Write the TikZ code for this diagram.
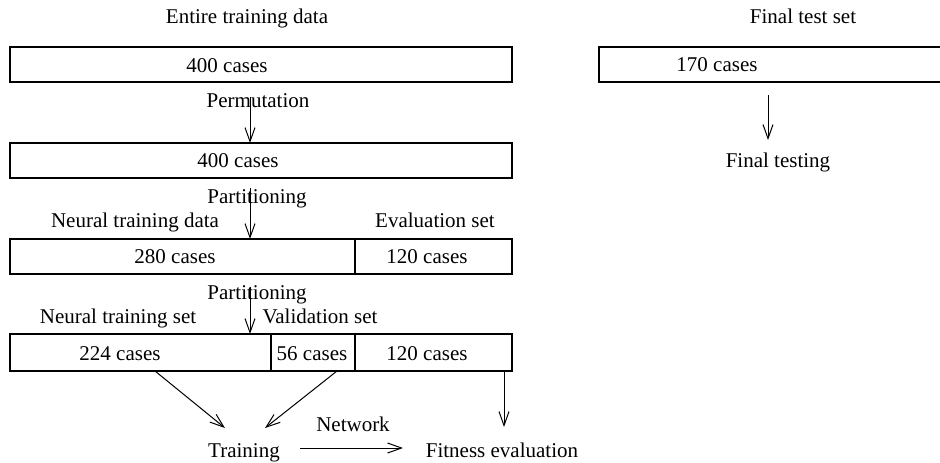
\documentclass[tikz,border=0pt]{standalone}
\usepackage{fontspec}
\setmainfont{Liberation Serif}
\usetikzlibrary{arrows.meta}
\begin{document}
\begin{tikzpicture}[x=0.5pt,y=-0.5pt,
  txt/.style={inner sep=0pt,anchor=base,font=\fontsize{10.5}{12}\selectfont},
  box/.style={draw,line width=0.75pt,inner sep=0pt,minimum height=#1*0.5pt},
  arr/.style={-{Straight Barb[length=7pt,width=5pt]},line width=0.5pt}]
\useasboundingbox (0,0) rectangle (940,462);
\clip (0,0) rectangle (940,462);
% boxes
\node[box=35,minimum width=251pt] (b1) at (261,64.5) {};
\node[box=35,minimum width=200.5pt] (bf) at (799.5,64.5) {};
\node[box=35,minimum width=251pt] (b2) at (261,160.5) {};
\node[box=35,minimum width=172.5pt] (b3a) at (182.5,256.5) {};
\node[box=35,minimum width=78.5pt] (b3b) at (433.5,256.5) {};
\node[box=37,minimum width=130.5pt] (b4a) at (140.5,352.5) {};
\node[box=37,minimum width=42pt] (b4b) at (313,352.5) {};
\node[box=37,minimum width=78.5pt] (b4c) at (433.5,352.5) {};
% texts
\node[txt] (ent) at (247,23) {Entire training data};
\node[txt] (fts) at (803,23) {Final test set};
\node[txt] (t400a) at (227,72) {400 cases};
\node[txt] (t170) at (717,71) {170 cases};
\node[txt] (perm) at (258,107) {Permutation};
\node[txt] (t400b) at (238,167) {400 cases};
\node[txt] (ft) at (778,167) {Final testing};
\node[txt] (p1) at (257,203) {Partitioning};
\node[txt] (ntd) at (135,227) {Neural training data};
\node[txt] (evs) at (435,227) {Evaluation set};
\node[txt] (t280) at (175,263) {280 cases};
\node[txt] (t120a) at (427,263) {120 cases};
\node[txt] (p2) at (257,299) {Partitioning};
\node[txt] (nts) at (118,323) {Neural training set};
\node[txt] (vs) at (320,323) {Validation set};
\node[txt] (t224) at (120,360) {224 cases};
\node[txt] (t56) at (312,360) {56 cases};
\node[txt] (t120b) at (427,360) {120 cases};
\node[txt] (train) at (244,457) {Training};
\node[txt] (net) at (353,431) {Network};
\node[txt] (fit) at (502,457) {Fitness evaluation};
% arrow coordinates
\coordinate (a1s) at (250,97);
\coordinate (a1e) at (250,143);
\coordinate (a2s) at (768,95);
\coordinate (a2e) at (768,140);
\coordinate (a3s) at (250,188);
\coordinate (a3e) at (250,239);
\coordinate (a4s) at (250,287);
\coordinate (a4e) at (250,334);
\coordinate (a5s) at (155,371);
\coordinate (a5e) at (225,428);
\coordinate (a6s) at (337,371);
\coordinate (a6e) at (265,428);
\coordinate (a7s) at (504,371);
\coordinate (a7e) at (504,427);
\coordinate (a8s) at (300,448);
\coordinate (a8e) at (403,448);
\draw[arr] (a1s) -- (a1e);
\draw[arr] (a2s) -- (a2e);
\draw[arr] (a3s) -- (a3e);
\draw[arr] (a4s) -- (a4e);
\draw[arr] (a5s) -- (a5e);
\draw[arr] (a6s) -- (a6e);
\draw[arr] (a7s) -- (a7e);
\draw[arr] (a8s) -- (a8e);
\end{tikzpicture}
\end{document}
